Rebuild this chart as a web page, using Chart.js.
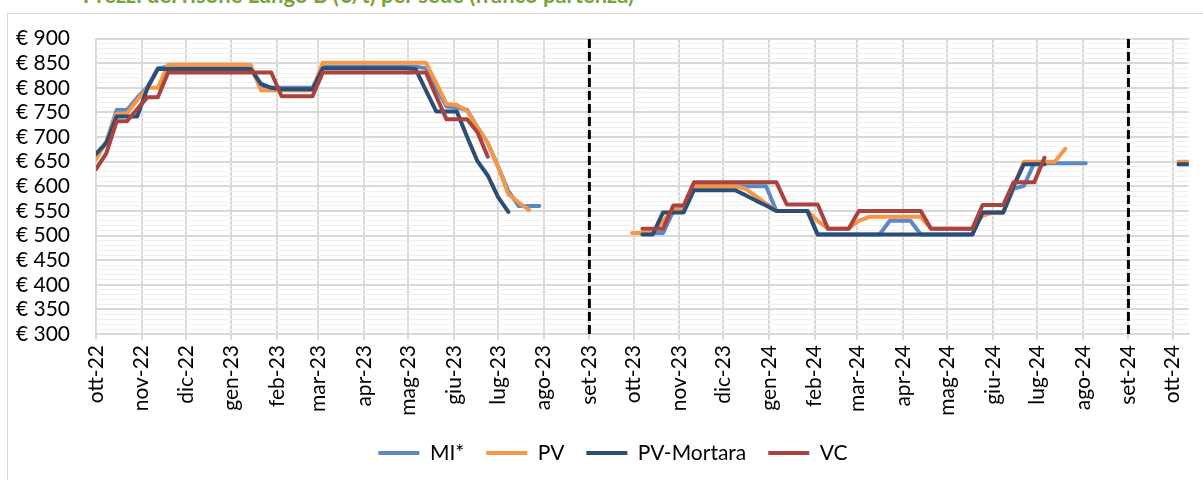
<!DOCTYPE html>
<html>
<head>
<meta charset="utf-8">
<script src="https://cdn.jsdelivr.net/npm/chart.js@4.4.1/dist/chart.umd.min.js"></script>
<style>
  body { margin: 0; background: #fff; width: 1203px; height: 480px; overflow: hidden; position: relative; font-family: Lato, sans-serif; }
  .frame { position: absolute; left: 7px; top: 13px; width: 1230px; height: 500px; border: 1px solid #d9d9d9; }
  .title { position: absolute; right: 569px; top: -19px; color: #7aa33e; font-weight: bold; font-size: 22px; white-space: nowrap; }
  #chart { position: absolute; left: 0; top: 0; }
</style>
</head>
<body>
<div class="frame"></div>
<div class="title">Prezzi del risone Lungo B (&euro;/t) per sede (franco partenza)</div>
<canvas id="chart" width="1203" height="480"></canvas>
<script>
// weekly quotations, first week = 3 Oct 2022
var firstWeek = Date.UTC(2022, 9, 3);
var weekCount = 107;

var monthLabels = ["ott-22","nov-22","dic-22","gen-23","feb-23","mar-23","apr-23","mag-23","giu-23","lug-23","ago-23","set-23",
                   "ott-23","nov-23","dic-23","gen-24","feb-24","mar-24","apr-24","mag-24","giu-24","lug-24","ago-24","set-24","ott-24"];
var separatorMonths = ["set-23", "set-24"];
var euro = "\u20ac";

var seriesNames = ["MI*", "PV", "PV-Mortara", "VC"];
var seriesColors = ["#5a8ac6", "#f79646", "#2c4d75", "#a9433f"];

var mi = [
    660, 690, 755, 755, 780, 802, 840, 843, 843, 843,
    843, 843, 843, 843, 843, 843, 805, 800, 800, 800,
    800, 800, 843, 843, 843, 843, 843, 843, 843, 843,
    843, 843, 840, 800, 762, 760, 755, 720, 688, 640,
    590, 560, 560, 560, null, null, null, null, null, null,
    null, null, null, null, 505, 505, 550, 550, 600, 600,
    600, 600, 600, 600, 600, 600, 550, 550, 550, 550,
    502, 502, 502, 502, 502, 502, 502, 530, 530, 530,
    502, 502, 502, 502, 502, 502, 547, 547, 547, 595,
    601, 647, 647, 647, 647, 647, 647, null, null, null,
    null, null, null, null, null, null, null
];
var pv = [
    655, 690, 748, 748, 775, 800, 800, 847, 847, 847,
    847, 847, 847, 847, 847, 847, 795, 795, 795, 795,
    795, 795, 851, 851, 851, 851, 851, 851, 851, 851,
    851, 851, 851, 810, 767, 765, 753, 720, 688, 640,
    584, 567, 552, null, null, null, null, null, null, null,
    null, null, 505, 505, 505, 530, 552, 555, 600, 600,
    600, 600, 600, 595, 580, 565, 550, 550, 550, 550,
    530, 514, 514, 514, 530, 538, 538, 538, 538, 538,
    538, 514, 514, 514, 514, 514, 540, 547, 547, 600,
    650, 650, 650, 650, 676, null, null, null, null, null,
    null, null, null, null, null, 650, 650
];
var pvMortara = [
    666, 688, 742, 742, 742, 800, 838, 838, 838, 838,
    838, 838, 838, 838, 838, 838, 808, 800, 797, 797,
    797, 797, 840, 840, 840, 840, 840, 840, 840, 840,
    840, 838, 795, 752, 752, 752, 700, 651, 622, 578,
    548, null, null, null, null, null, null, null, null, null,
    null, null, null, 502, 502, 547, 547, 547, 592, 592,
    592, 592, 592, 582, 571, 561, 550, 550, 550, 550,
    502, 502, 502, 502, 502, 502, 502, 502, 502, 502,
    502, 502, 502, 502, 502, 502, 547, 547, 547, 600,
    645, 645, 645, null, null, null, null, null, null, null,
    null, null, null, null, null, 645, 645
];
var vc = [
    635, 667, 732, 732, 757, 781, 781, 831, 831, 831,
    831, 831, 831, 831, 831, 831, 831, 831, 783, 783,
    783, 783, 831, 831, 831, 831, 831, 831, 831, 831,
    831, 831, 831, 783, 736, 736, 736, 710, 660, null,
    null, null, null, null, null, null, null, null, null, null,
    null, null, null, 514, 514, 514, 561, 561, 608, 608,
    608, 608, 608, 608, 608, 608, 608, 563, 563, 563,
    563, 514, 514, 514, 550, 550, 550, 550, 550, 550,
    550, 514, 514, 514, 514, 514, 562, 562, 562, 608,
    608, 608, 658, null, null, null, null, null, null, null,
    null, null, null, null, null, null, null
];
var allSeries = [mi, pv, pvMortara, vc];

var yMin = 300, yMax = 900;

function dayOf(ms) {
    return Math.round((ms - firstWeek) / 86400000);
}
var weekDays = [];
for (var i = 0; i < weekCount; i++) weekDays.push(i * 7);
var monthDays = monthLabels.map(function(l, i) { return dayOf(Date.UTC(2022, 9 + i, 3)); });

var datasets = allSeries.map(function(values, s) {
    return {
        label: seriesNames[s],
        data: weekDays.map(function(d, i) { return {x: d, y: values[i]}; }),
        borderColor: seriesColors[s],
        backgroundColor: seriesColors[s],
        borderWidth: 4,
        pointRadius: 0,
        tension: 0,
        borderCapStyle: "round",
        borderJoinStyle: "round",
        order: 4 - s
    };
});
separatorMonths.forEach(function(m) {
    var d = monthDays[monthLabels.indexOf(m)];
    datasets.push({
        data: [{x: d, y: yMin}, {x: d, y: yMax}],
        borderColor: "#000",
        borderWidth: 3,
        borderDash: [9, 4],
        pointRadius: 0,
        order: 0
    });
});

// legend sits a bit right of the canvas centre in the original
var legendShift = {
    id: "legendShift",
    afterLayout: function(chart) {
        chart.legend.left += 18;
        chart.legend.right += 18;
    }
};

Chart.defaults.font.family = "Lato, sans-serif";
Chart.defaults.font.size = 21;
Chart.defaults.color = "#000";

new Chart(document.getElementById("chart"), {
    type: "line",
    data: { datasets: datasets },
    plugins: [legendShift],
    options: {
        responsive: false,
        animation: false,
        devicePixelRatio: 1,
        events: [],
        layout: { padding: { left: 0, right: 13, top: 37, bottom: 6.5 } },
        scales: {
            x: {
                type: "linear",
                min: 0,
                max: weekDays[weekDays.length - 1],
                afterBuildTicks: function(s) { s.ticks = monthDays.map(function(v) { return {value: v}; }); },
                afterFit: function(s) { s.height = 86.5; },
                border: { display: true, color: "#d9d9d9", width: 2 },
                grid: { color: "#d9d9d9", lineWidth: 2, drawTicks: true, tickLength: 6 },
                ticks: {
                    autoSkip: false, maxRotation: 90, minRotation: 90, padding: 5,
                    callback: function(v, i) { return monthLabels[i]; }
                }
            },
            y: {
                min: yMin,
                max: yMax,
                afterFit: function(s) { s.width = 96; },
                border: { display: false },
                grid: {
                    drawTicks: false,
                    color: function(c) { return c.tick.value % 50 === 0 ? "#d9d9d9" : "#f0f0f0"; },
                    lineWidth: function(c) { return c.tick.value % 50 === 0 ? 2 : 1; }
                },
                ticks: {
                    stepSize: 10, autoSkip: false, padding: 26,
                    callback: function(v) { return v % 50 === 0 ? euro + " " + v : ""; }
                }
            }
        },
        plugins: {
            tooltip: { enabled: false },
            legend: {
                position: "bottom",
                labels: {
                    usePointStyle: true,
                    pointStyle: "line",
                    pointStyleWidth: 41,
                    padding: 22,
                    filter: function(item) { return item.datasetIndex < 4; },
                    sort: function(a, b) { return a.datasetIndex - b.datasetIndex; }
                }
            }
        }
    }
});
</script>
</body>
</html>
